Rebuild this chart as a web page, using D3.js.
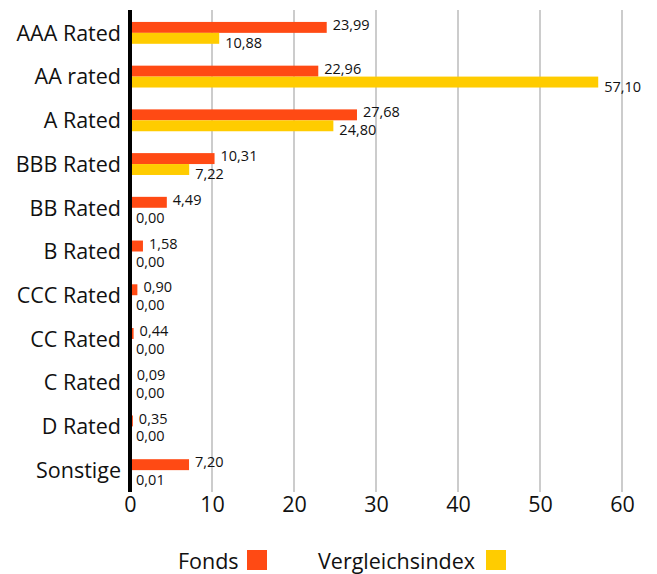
<!DOCTYPE html>
<html>
<head>
<meta charset="utf-8">
<script src="https://cdn.jsdelivr.net/npm/d3@7"></script>
<style>
  html, body { margin: 0; padding: 0; background: #fff; }
  svg { display: block; font-family: "Open Sans", "Noto Sans", sans-serif; }
</style>
</head>
<body>
<svg id="chart" width="657" height="574"></svg>
<script>
const categories = ["AAA Rated", "AA rated", "A Rated", "BBB Rated", "BB Rated", "B Rated", "CCC Rated", "CC Rated", "C Rated", "D Rated", "Sonstige"];
const fondsValues = [23.99, 22.96, 27.68, 10.31, 4.49, 1.58, 0.90, 0.44, 0.09, 0.35, 7.20];
const indexValues = [10.88, 57.10, 24.80, 7.22, 0.00, 0.00, 0.00, 0.00, 0.00, 0.00, 0.01];
const xTicks = [0, 10, 20, 30, 40, 50, 60];
const seriesNames = ["Fonds", "Vergleichsindex"];
const seriesColors = ["#FF4A14", "#FFCC00"];

const svg = d3.select("#chart");
const x = d3.scaleLinear().domain([0, 60]).range([130, 622]);
const y = d3.scaleBand().domain(categories).range([11, 492]).paddingInner(0.5).paddingOuter(0.25);
const barH = y.bandwidth() / 2;
const fmt = v => v.toFixed(2).replace(".", ",");

// grid lines
svg.append("g").selectAll("line").data(xTicks.filter(t => t > 0)).join("line")
  .attr("x1", d => x(d)).attr("x2", d => x(d))
  .attr("y1", 10).attr("y2", 492)
  .attr("stroke", "#cccccc").attr("stroke-width", 2);

// x axis tick labels
const xAxis = d3.axisBottom(x).tickValues(xTicks).tickSize(0).tickPadding(0).tickFormat(d3.format("d"));
const gx = svg.append("g").attr("transform", "translate(0,497)").call(xAxis);
gx.select(".domain").remove();
gx.selectAll("text").attr("font-size", 21.5).attr("fill", "#111").attr("dy", "0.71em")
  .attr("font-family", "'Open Sans', sans-serif");

// y axis labels
const yAxis = d3.axisLeft(y).tickSize(0).tickPadding(0);
const gy = svg.append("g").attr("transform", "translate(121,0)").call(yAxis);
gy.select(".domain").remove();
gy.selectAll("text").attr("font-size", 21.5).attr("fill", "#111")
  .attr("font-family", "'Open Sans', sans-serif").attr("dy", "0.36em");

const rows = categories.map((c, i) => ({ c, f: fondsValues[i], v: indexValues[i] }));

// fonds bars
svg.append("g").selectAll("rect").data(rows).join("rect")
  .attr("x", x(0)).attr("y", d => y(d.c))
  .attr("width", d => x(d.f) - x(0)).attr("height", barH)
  .attr("fill", seriesColors[0]);
// index bars
svg.append("g").selectAll("rect").data(rows).join("rect")
  .attr("x", x(0)).attr("y", d => y(d.c) + barH)
  .attr("width", d => x(d.v) - x(0)).attr("height", barH)
  .attr("fill", seriesColors[1]);

// value labels
svg.append("g").selectAll("text").data(rows).join("text")
  .attr("x", d => x(d.f) + 6).attr("y", d => y(d.c) + barH / 2 - 2.5)
  .attr("dy", "0.35em").attr("font-size", 14.5).attr("fill", "#111")
  .text(d => fmt(d.f));
svg.append("g").selectAll("text").data(rows).join("text")
  .attr("x", d => x(d.v) + 6).attr("y", d => y(d.c) + barH * 1.5 + 4.5)
  .attr("dy", "0.35em").attr("font-size", 14.5).attr("fill", "#111")
  .text(d => fmt(d.v));

// axis line
svg.append("line").attr("x1", x(0)).attr("x2", x(0)).attr("y1", 10).attr("y2", 492)
  .attr("stroke", "#000").attr("stroke-width", 4);

// legend
const legend = svg.append("g");
const legendItems = [
  { name: seriesNames[0], color: seriesColors[0], tx: 178, sx: 247 },
  { name: seriesNames[1], color: seriesColors[1], tx: 318, sx: 486 }
];
legendItems.forEach(it => {
  legend.append("text").attr("x", it.tx).attr("y", 569).attr("font-size", 21.5).attr("fill", "#111").text(it.name);
  legend.append("rect").attr("x", it.sx).attr("y", 550).attr("width", 20).attr("height", 20).attr("fill", it.color);
});
</script>
</body>
</html>
